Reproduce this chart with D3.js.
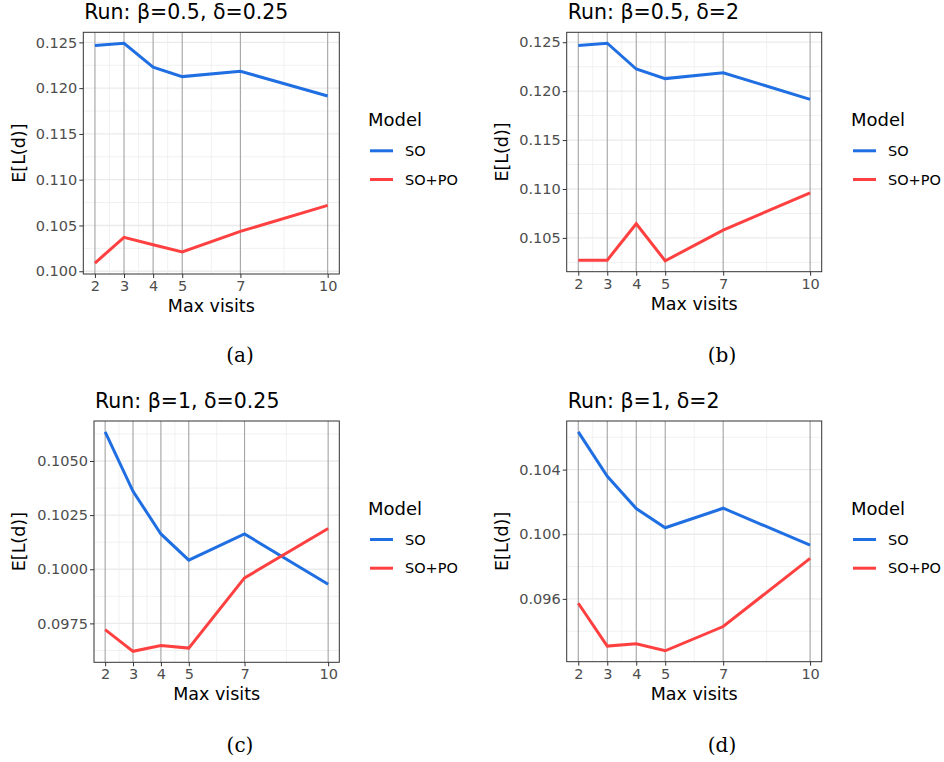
<!DOCTYPE html>
<html>
<head>
<meta charset="utf-8">
<script src="https://cdn.jsdelivr.net/npm/d3@7"></script>
<style>
  body { margin: 0; background: #fff; }
  text { font-family: "DejaVu Sans", sans-serif; }
</style>
</head>
<body>
<script>
var width = 944,
    height = 762;

// data
var visits = [2, 3, 4, 5, 7, 10];
var models = ["SO", "SO+PO"];
var titles = ["Run: β=0.5, δ=0.25", "Run: β=0.5, δ=2", "Run: β=1, δ=0.25", "Run: β=1, δ=2"];
var captions = ["(a)", "(b)", "(c)", "(d)"];

var so_a    = [0.12467, 0.12490, 0.12230, 0.12126, 0.12185, 0.11914];
var sopo_a  = [0.10090, 0.10370, 0.10290, 0.10210, 0.10435, 0.10720];
var so_b    = [0.12466, 0.12490, 0.12226, 0.12128, 0.12187, 0.11916];
var sopo_b  = [0.10273, 0.10273, 0.10645, 0.10266, 0.10580, 0.10960];
var so_c    = [0.10634, 0.10360, 0.10163, 0.10042, 0.10163, 0.09931];
var sopo_c  = [0.09721, 0.09621, 0.09648, 0.09636, 0.09960, 0.10188];
var so_d    = [0.10633, 0.10359, 0.10159, 0.10040, 0.10161, 0.09933];
var sopo_d  = [0.09573, 0.09308, 0.09322, 0.09279, 0.09429, 0.09851];

var yticks_ab = [0.100, 0.105, 0.110, 0.115, 0.120, 0.125];
var yticks_c  = [0.0975, 0.1000, 0.1025, 0.1050];
var yticks_d  = [0.096, 0.100, 0.104];

var series = [[so_a, sopo_a], [so_b, sopo_b], [so_c, sopo_c], [so_d, sopo_d]];
var yticks = [yticks_ab, yticks_ab, yticks_c, yticks_d];
var ydigits = [3, 3, 4, 3];

// layout of each panel (plot area)
var frames = [
  {left: 83.3,  right: 339.3, top: 32.3, bottom: 274,   cap: [240, 362], ylab: 19},
  {left: 566.7, right: 821.7, top: 32.3, bottom: 271.7, cap: [722, 362], ylab: 502},
  {left: 94,    right: 339.3, top: 421,  bottom: 662.3, cap: [240, 752], ylab: 19},
  {left: 566.7, right: 821.7, top: 421,  bottom: 661.7, cap: [722, 752], ylab: 502}
];

var colors = {"SO": "#1f6fe3", "SO+PO": "#ff4040"};

var svg = d3.select("body").append("svg")
    .attr("width", width)
    .attr("height", height);

// ggplot-like 5% expansion
function expand(ext) {
  var d = (ext[1] - ext[0]) * 0.05;
  return [ext[0] - d, ext[1] + d];
}

// minor breaks halfway between majors (one extra step at each end)
function minors(br, dom, extend) {
  var ext = br.slice();
  if (extend) {
    var step = br[1] - br[0];
    ext = [br[0] - step].concat(br).concat([br[br.length - 1] + step]);
  }
  var out = [];
  for (var i = 0; i < ext.length - 1; i++) {
    var m = (ext[i] + ext[i + 1]) / 2;
    if (m >= dom[0] && m <= dom[1]) out.push(m);
  }
  return out;
}

for (var p = 0; p < 4; p++) {
  drawPanel(p);
}

function drawPanel(p) {
  var f = frames[p];
  var g = svg.append("g");
  var allY = series[p][0].concat(series[p][1]);

  var x = d3.scaleLinear().domain(expand(d3.extent(visits))).range([f.left, f.right]);
  var y = d3.scaleLinear().domain(expand(d3.extent(allY))).range([f.bottom, f.top]);
  var ydom = y.domain();
  var yt = yticks[p].filter(function(d) { return d >= ydom[0] && d <= ydom[1]; });

  // minor grid
  g.selectAll(".xminor").data(minors(visits, x.domain(), false)).enter().append("line")
      .attr("x1", function(d) { return x(d); })
      .attr("x2", function(d) { return x(d); })
      .attr("y1", f.top).attr("y2", f.bottom)
      .attr("stroke", "#ebebeb").attr("stroke-width", 0.7);
  g.selectAll(".yminor").data(minors(yticks[p], ydom, true)).enter().append("line")
      .attr("y1", function(d) { return y(d); })
      .attr("y2", function(d) { return y(d); })
      .attr("x1", f.left).attr("x2", f.right)
      .attr("stroke", "#ebebeb").attr("stroke-width", 0.7);

  // major grid
  g.selectAll(".ymajor").data(yt).enter().append("line")
      .attr("y1", function(d) { return y(d); })
      .attr("y2", function(d) { return y(d); })
      .attr("x1", f.left).attr("x2", f.right)
      .attr("stroke", "#ebebeb").attr("stroke-width", 1.3);

  // vertical lines at each visit value
  g.selectAll(".vline").data(visits).enter().append("line")
      .attr("x1", function(d) { return x(d); })
      .attr("x2", function(d) { return x(d); })
      .attr("y1", f.top).attr("y2", f.bottom)
      .attr("stroke", "#a3a3a3").attr("stroke-width", 1.1);

  // lines
  var line = d3.line()
      .x(function(d, i) { return x(visits[i]); })
      .y(function(d) { return y(d); });

  models.forEach(function(m, k) {
    g.append("path")
        .attr("d", line(series[p][k]))
        .attr("fill", "none")
        .attr("stroke", colors[m])
        .attr("stroke-width", 3);
  });

  // panel border
  g.append("rect")
      .attr("x", f.left).attr("y", f.top)
      .attr("width", f.right - f.left).attr("height", f.bottom - f.top)
      .attr("fill", "none").attr("stroke", "#333").attr("stroke-width", 1);

  // axes
  var xAxis = d3.axisBottom(x).tickValues(visits).tickSize(4).tickSizeOuter(0);
  var gx = g.append("g").attr("transform", "translate(0," + f.bottom + ")").call(xAxis);
  gx.select(".domain").remove();
  gx.selectAll("line").attr("stroke", "#333");
  gx.selectAll("text").attr("fill", "#4d4d4d").attr("font-size", "14.5px")
      .attr("font-family", "DejaVu Sans").attr("dy", "0.9em").attr("y", 4);

  var yAxis = d3.axisLeft(y).tickValues(yt).tickSize(4)
      .tickFormat(d3.format("." + ydigits[p] + "f"));
  var gy = g.append("g").attr("transform", "translate(" + f.left + ",0)").call(yAxis);
  gy.select(".domain").remove();
  gy.selectAll("line").attr("stroke", "#333");
  gy.selectAll("text").attr("fill", "#4d4d4d").attr("font-size", "14.5px")
      .attr("font-family", "DejaVu Sans").attr("x", -6);

  // titles
  g.append("text")
      .attr("x", f.left + 1).attr("y", f.top - 13)
      .attr("font-size", "20.5px").attr("fill", "#000")
      .text(titles[p]);

  g.append("text")
      .attr("x", (f.left + f.right) / 2).attr("y", f.bottom + 38)
      .attr("text-anchor", "middle").attr("font-size", "17.5px")
      .text("Max visits");

  g.append("text")
      .attr("transform", "translate(" + (f.ylab + 6) + "," + ((f.top + f.bottom) / 2) + ") rotate(-90)")
      .attr("text-anchor", "middle").attr("font-size", "17.5px")
      .text("E[L(d)]");

  // legend
  var lx = (p % 2 ? 851 : 368),
      ly = f.top + 94;
  var leg = g.append("g");
  leg.append("text").attr("x", lx).attr("y", ly).attr("font-size", "18px").text("Model");
  models.forEach(function(m, k) {
    var yy = f.top + 118.5 + k * 28.7;
    leg.append("line")
        .attr("x1", lx + 2).attr("x2", lx + 25)
        .attr("y1", yy).attr("y2", yy)
        .attr("stroke", colors[m]).attr("stroke-width", 3);
    leg.append("text")
        .attr("x", lx + 37).attr("y", yy + 5)
        .attr("font-size", "14.5px").text(m);
  });

  // caption
  svg.append("text")
      .attr("x", f.cap[0]).attr("y", f.cap[1])
      .attr("text-anchor", "middle")
      .attr("style", "font-family: 'DejaVu Serif', serif")
      .attr("font-size", "20px")
      .text(captions[p]);
}
</script>
</body>
</html>
